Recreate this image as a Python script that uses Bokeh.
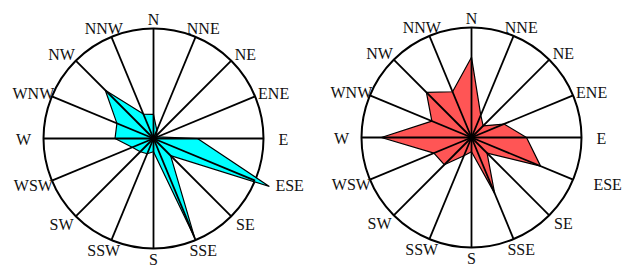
import numpy as np
from bokeh.plotting import figure
from bokeh.models import Range1d
from bokeh.embed import file_html
from bokeh.resources import INLINE

directions = ["N", "NNE", "NE", "ENE", "E", "ESE", "SE", "SSE",
              "S", "SSW", "SW", "WSW", "W", "WNW", "NW", "NNW"]
# frequency values (outer circle = 10)
left_values = [2.2, 0.8, 0.4, 0.4, 4.0, 11.4, 2.2, 9.8,
               1.2, 1.5, 1.7, 2.1, 3.5, 3.6, 6.2, 2.4]
right_values = [7.3, 2.2, 1.5, 3.2, 5.0, 6.8, 2.0, 5.5,
                1.3, 1.8, 3.5, 3.7, 8.2, 3.9, 5.8, 4.5]
circle_max = 10.0

W, H = 629, 269
p = figure(width=W, height=H, output_backend="svg", toolbar_location=None,
           x_range=Range1d(0, W), y_range=Range1d(H, 0),
           min_border=0, outline_line_color=None)
p.axis.visible = False
p.grid.visible = False
p.background_fill_color = "white"

SCALE = 11.0  # px per unit
theta = np.deg2rad(np.arange(16) * 22.5)
# label nudge (layout only): ESE label sits further out in the original
label_dx = np.zeros(16)
label_dx[5] = 16


def rose(cx, cy, values, color):
    r_circ = circle_max * SCALE
    p.circle(x=[cx], y=[cy], radius=r_circ, fill_color="white",
             line_color="black", line_width=2)
    v = np.array(values) * SCALE
    xs = cx + v * np.sin(theta)
    ys = cy - v * np.cos(theta)
    p.patch(x=list(xs), y=list(ys), fill_color=color, line_color="black",
            line_width=1.2)
    sx = [[cx, cx + r_circ * np.sin(t)] for t in theta]
    sy = [[cy, cy - r_circ * np.cos(t)] for t in theta]
    p.multi_line(xs=sx, ys=sy, line_color="black", line_width=1.8)
    lx = cx + 130 * np.sin(theta) + label_dx
    ly = cy - 120 * np.cos(theta) + 1
    p.text(x=list(lx), y=list(ly), text=directions, text_align="center",
           text_baseline="middle", text_font_size="16px",
           text_font={"value": "Liberation Serif"}, text_color="#111111")


rose(153, 138, left_values, "#00ffff")
rose(471, 137, right_values, "#ff5555")

open("out.html", "w").write(file_html(p, INLINE))
